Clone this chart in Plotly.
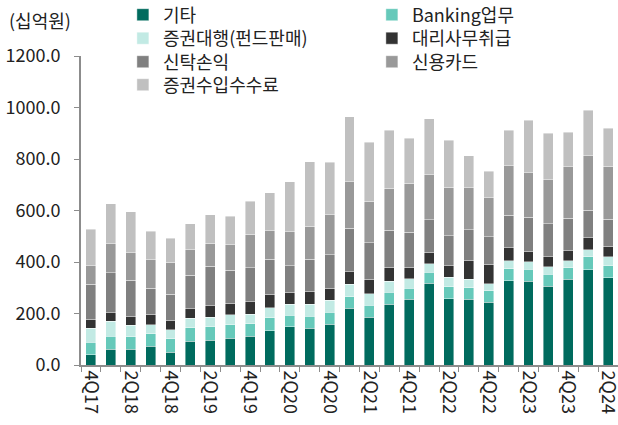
import plotly.graph_objects as go

quarters = ["4Q17","1Q18","2Q18","3Q18","4Q18","1Q19","2Q19","3Q19","4Q19",
            "1Q20","2Q20","3Q20","4Q20","1Q21","2Q21","3Q21","4Q21",
            "1Q22","2Q22","3Q22","4Q22","1Q23","2Q23","3Q23","4Q23","1Q24","2Q24"]
tick_labels = [q if q[0] in "24" else "" for q in quarters]

gita       = [40,61,61,72,49,93,96,103,111,134,149,142,158,220,185,235,255,317,258,255,244,328,326,306,333,370,339]
banking    = [49,50,49,49,53,52,53,53,50,49,44,47,47,45,47,47,43,43,45,45,44,45,45,47,44,50,47]
fund       = [54,58,45,36,35,36,37,40,37,39,43,47,47,49,45,43,37,34,37,34,28,31,30,28,27,28,34]
agency     = [34,34,34,41,36,37,44,43,47,52,47,50,47,49,56,54,44,43,45,72,76,52,40,39,39,47,41]
trust      = [137,156,140,101,101,130,154,129,133,137,102,124,129,168,141,145,137,127,116,120,107,125,133,129,127,106,106]
card       = [72,112,107,110,125,99,88,99,130,111,132,128,155,181,162,162,189,174,190,162,150,193,173,171,199,212,204]
securities = [141,155,159,111,94,101,111,111,128,147,195,252,205,253,230,225,176,218,181,124,103,137,203,180,134,176,149]

# (name, values, colour, legend row)
series = [
    ("기타", gita, "#006B5E", "legend"),
    ("Banking업무", banking, "#66C9BA", "legend"),
    ("증권대행(펀드판매)", fund, "#C2EAE4", "legend2"),
    ("대리사무취급", agency, "#333333", "legend2"),
    ("신탁손익", trust, "#808080", "legend3"),
    ("신용카드", card, "#999999", "legend3"),
    ("증권수입수수료", securities, "#C0C0C0", "legend4"),
]

FONT = "Noto Sans CJK KR"
TXT = "#222222"
H = 425

fig = go.Figure()
for name, vals, color, lg in series:
    fig.add_trace(go.Bar(
        x=quarters, y=vals, name=name, legend=lg,
        marker=dict(color=color, line=dict(color="rgba(255,255,255,0.7)", width=0.6)),
    ))

def row_legend(center_px):
    return dict(
        orientation="h", x=0.078, y=1 - center_px / H, xanchor="left", yanchor="middle",
        xref="paper", yref="container",
        entrywidth=204, traceorder="normal",
        font=dict(family=FONT, size=18, color=TXT),
        bgcolor="rgba(0,0,0,0)", itemclick=False, itemdoubleclick=False,
    )

fig.update_layout(
    barmode="stack",
    bargap=0.5,
    width=618, height=H,
    margin=dict(l=81, r=0, t=56, b=60, autoexpand=False),
    plot_bgcolor="white", paper_bgcolor="white",
    font=dict(family=FONT, size=18, color=TXT),
    showlegend=True,
    legend=row_legend(15),
    legend2=row_legend(38.5),
    legend3=row_legend(62),
    legend4=row_legend(85),
    xaxis=dict(
        type="category",
        tickmode="array", tickvals=quarters, ticktext=tick_labels,
        tickangle=90, tickson="boundaries",
        ticks="outside", ticklen=5, tickcolor="#8C8C8C",
        showline=True, linecolor="#8C8C8C", linewidth=2,
        showgrid=False, zeroline=False,
        tickfont=dict(family=FONT, size=18, color=TXT),
    ),
    yaxis=dict(
        range=[0, 1200], tickvals=[0, 200, 400, 600, 800, 1000, 1200],
        tickformat=".1f",
        ticks="outside", ticklen=5, tickcolor="#8C8C8C",
        ticklabelstandoff=10,
        showline=True, linecolor="#8C8C8C", linewidth=2,
        showgrid=False, zeroline=False,
        tickfont=dict(family=FONT, size=18, color=TXT),
    ),
    annotations=[dict(
        text="(십억원)", xref="paper", yref="paper", x=-0.1378, y=1.118,
        xanchor="left", yanchor="middle", showarrow=False,
        font=dict(family=FONT, size=18, color=TXT),
    )],
)

fig.write_html("out.html", config={"displayModeBar": False},
               post_script="document.body.style.margin='0';")
